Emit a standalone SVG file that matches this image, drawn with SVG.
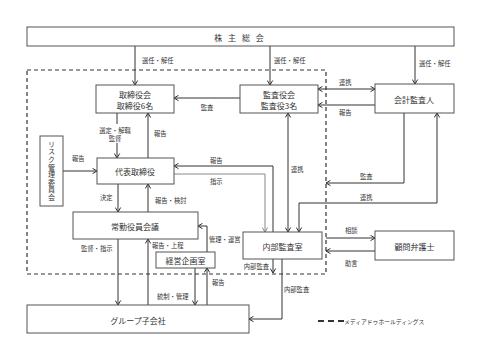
<svg xmlns="http://www.w3.org/2000/svg" width="484" height="363" viewBox="0 0 484 363">
<style>
.box{fill:#fff;stroke:#555;stroke-width:1}
.bt{font-family:"Noto Sans CJK JP","DejaVu Sans",sans-serif;font-size:8px;fill:#333;text-anchor:middle;dominant-baseline:central}
.lb{font-family:"Noto Sans CJK JP","DejaVu Sans",sans-serif;font-size:6.3px;fill:#333}
.ln{fill:none;stroke:#333;stroke-width:1;marker-end:url(#ah)}
.ln2{fill:none;stroke:#333;stroke-width:1;marker-start:url(#ah);marker-end:url(#ah)}
.gl{fill:none;stroke:#888;stroke-width:1;marker-end:url(#ahg)}
.np{fill:none;stroke:#333;stroke-width:1}
</style>
<defs>
<marker id="ah" markerUnits="userSpaceOnUse" markerWidth="7" markerHeight="7" refX="6" refY="3.5" orient="auto-start-reverse"><path d="M1.5,0.8 L6,3.5 L1.5,6.2" fill="none" stroke="#333" stroke-width="1"/></marker>
<marker id="ahg" markerUnits="userSpaceOnUse" markerWidth="7" markerHeight="7" refX="6" refY="3.5" orient="auto"><path d="M1.5,0.8 L6,3.5 L1.5,6.2" fill="none" stroke="#888" stroke-width="1"/></marker>
</defs>
<rect width="484" height="363" fill="#fff"/>
<rect id="group-boundary" x="27" y="70" width="299" height="204" fill="none" stroke="#333" stroke-width="1.2" stroke-dasharray="4,3"/>

<g id="connectors">
<path class="ln" d="M135,46 V85"/>
<path class="ln" d="M270,46 V85"/>
<path class="ln" d="M415,46 V84"/>
<path class="ln" d="M240,98 H174"/>
<path class="ln2" d="M318,89 H375"/>
<path class="ln" d="M375,105 H318"/>
<path class="np" d="M117,113 V124"/>
<path class="ln" d="M117,143 V158"/>
<path class="ln" d="M148,158 V113"/>
<path class="ln" d="M63,171 H97"/>
<path class="ln" d="M273,232 V166 H174"/>
<path class="gl" d="M174,174 H265 V232"/>
<path class="ln" d="M118,184 V212"/>
<path class="ln" d="M148,212 V184"/>
<path class="ln" d="M207,252 V226 H198"/>
<path class="ln" d="M118,239 V305"/>
<path class="ln" d="M148,305 V239"/>
<path class="ln" d="M195,268 V305"/>
<path class="ln" d="M207,305 V268"/>
<path class="ln" d="M273,259 V273"/>
<path class="ln" d="M282,259 V319 H249"/>
<path class="ln2" d="M288,113 V232"/>
<path class="ln" d="M404,113 V183 H326"/>
<path class="ln2" d="M437,113 V203 H299 V232"/>
<path class="ln" d="M326,238 H375"/>
<path class="ln" d="M375,251 H326"/>
</g>

<g id="labels">
<text class="lb" x="142" y="63">選任・解任</text>
<text class="lb" x="274" y="63">選任・解任</text>
<text class="lb" x="419" y="66">選任・解任</text>
<text class="lb" x="207" y="110" text-anchor="middle">監査</text>
<text class="lb" x="339" y="85">連携</text>
<text class="lb" x="339" y="115">報告</text>
<text class="lb" x="115" y="133" text-anchor="middle">選定・解職</text>
<text class="lb" x="115" y="141" text-anchor="middle">監督</text>
<text class="lb" x="154" y="136">報告</text>
<text class="lb" x="72" y="161">報告</text>
<text class="lb" x="210" y="163">報告</text>
<text class="lb" x="210" y="184">指示</text>
<text class="lb" x="100" y="200">決定</text>
<text class="lb" x="155" y="203">報告・検討</text>
<text class="lb" x="209" y="242">管理・運営</text>
<text class="lb" x="81" y="251">監督・指示</text>
<text class="lb" x="152" y="248">報告・上程</text>
<text class="lb" x="157" y="299">統制・管理</text>
<text class="lb" x="212" y="285">報告</text>
<text class="lb" x="269" y="269" text-anchor="end">内部監査</text>
<text class="lb" x="284" y="292">内部監査</text>
<text class="lb" x="291" y="172">連携</text>
<text class="lb" x="360" y="179">監査</text>
<text class="lb" x="360" y="200">連携</text>
<text class="lb" x="345" y="233">相談</text>
<text class="lb" x="345" y="266">助言</text>
</g>

<g id="shareholders"><rect class="box" x="27" y="27" width="427" height="19"/><text class="bt" x="240" y="37" style="letter-spacing:2px">株 主 総 会</text></g>
<g id="board"><rect class="box" x="96" y="85" width="78" height="28"/><text class="bt" x="135" y="94">取締役会</text><text class="bt" x="135" y="105">取締役6名</text></g>
<g id="auditors-board"><rect class="box" x="240" y="85" width="78" height="28"/><text class="bt" x="279" y="94">監査役会</text><text class="bt" x="279" y="105">監査役3名</text></g>
<g id="accounting-auditor"><rect class="box" x="375" y="84" width="79" height="29"/><text class="bt" x="414" y="99">会計監査人</text></g>
<g id="risk-committee"><rect class="box" x="40" y="136" width="23" height="70"/><text class="bt" x="51.5" y="171" style="writing-mode:vertical-rl;text-orientation:upright;font-size:7px;letter-spacing:0.6px">リスク管理委員会</text></g>
<g id="ceo"><rect class="box" x="97" y="158" width="77" height="26"/><text class="bt" x="135" y="171">代表取締役</text></g>
<g id="exec-meeting"><rect class="box" x="73" y="212" width="125" height="27"/><text class="bt" x="135" y="226">常勤役員会議</text></g>
<g id="planning"><rect class="box" x="156" y="252" width="59" height="16"/><text class="bt" x="185.5" y="260">経営企画室</text></g>
<g id="internal-audit"><rect class="box" x="243" y="232" width="79" height="27"/><text class="bt" x="282.5" y="246">内部監査室</text></g>
<g id="lawyer"><rect class="box" x="375" y="231" width="79" height="29"/><text class="bt" x="414.5" y="246">顧問弁護士</text></g>
<g id="subsidiaries"><rect class="box" x="27" y="305" width="222" height="28"/><text class="bt" x="138" y="320">グループ子会社</text></g>

<g id="legend"><line x1="318" y1="321" x2="344" y2="321" stroke="#333" stroke-width="2" stroke-dasharray="6,4"/><text class="lb" x="344" y="323.5" style="font-size:5.8px">メディアドゥホールディングス</text></g>
</svg>
